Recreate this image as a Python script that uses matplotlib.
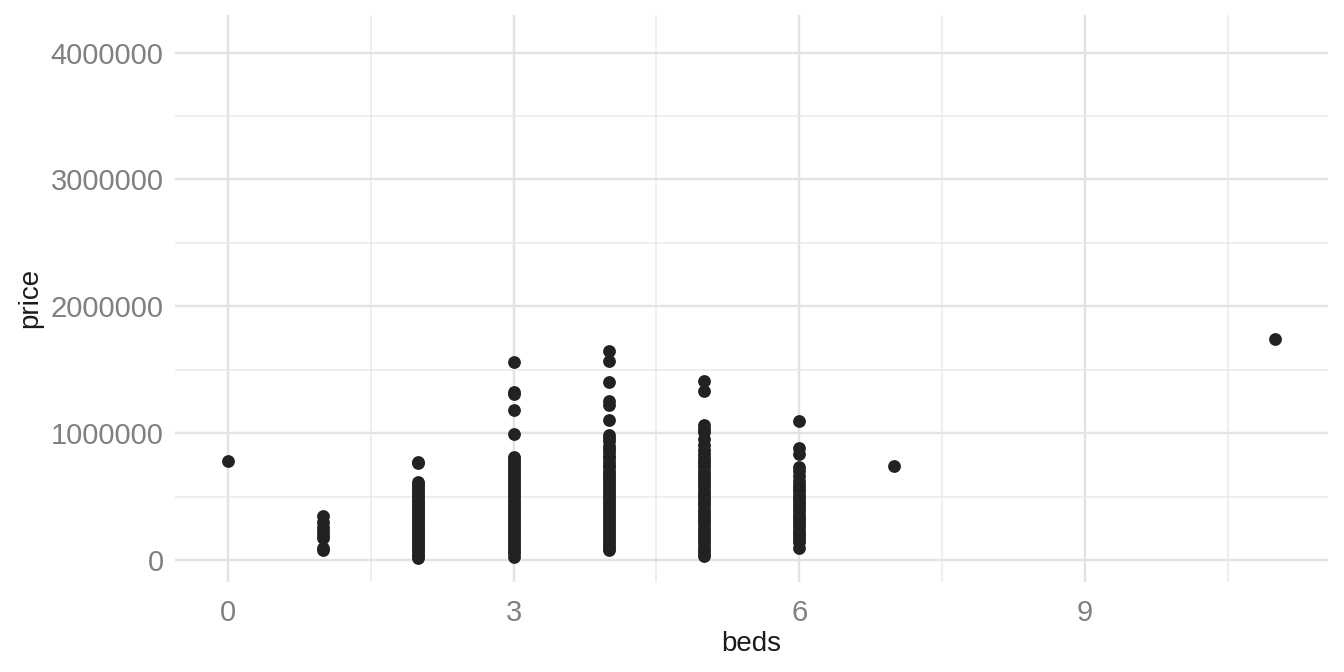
import numpy as np
import matplotlib
matplotlib.use('Agg')
from matplotlib import pyplot as plt
from matplotlib.ticker import FixedLocator

plt.rcParams['font.family'] = ['Liberation Sans', 'DejaVu Sans']

# prices per number of beds
price_0 = [778000]
price_1 = [347000, 302000, 262000, 230000, 200000, 171000, 95000, 79000]
price_2 = [775000, 762000, 618000, 600000, 581000, 560000, 540000, 521000,
           502000, 485000, 466000, 447000, 430000, 411000, 392000, 375000,
           356000, 338000, 320000, 301000, 284000, 265000, 247000, 229000,
           211000, 193000, 175000, 158000, 140000, 122000, 104000, 86000,
           68000, 50000, 33000, 16000]
price_3 = [1564000, 1325000, 1305000, 1185000, 995000, 815000, 795000,
           772000, 750000, 726000, 704000, 681000, 659000, 636000, 614000,
           591000, 569000, 546000, 524000, 501000, 479000, 456000, 434000,
           411000, 389000, 366000, 344000, 321000, 299000, 276000, 254000,
           231000, 209000, 186000, 164000, 141000, 119000, 96000, 74000,
           51000, 26000]
price_4 = [1651000, 1572000, 1401000, 1250000, 1222000, 1104000, 986000,
           960000, 935000, 900000, 872000, 848000, 822000, 800000, 776000,
           752000, 729000, 705000, 682000, 658000, 635000, 611000, 588000,
           564000, 541000, 517000, 494000, 470000, 447000, 423000, 400000,
           376000, 353000, 329000, 306000, 282000, 259000, 235000, 212000,
           188000, 165000, 141000, 118000, 97000, 79000]
price_5 = [1414000, 1335000, 1060000, 1035000, 1010000, 952000, 905000,
           870000, 838000, 805000, 780000, 755000, 730000, 705000, 680000,
           655000, 630000, 605000, 580000, 555000, 530000, 505000, 480000,
           455000, 430000, 405000, 380000, 355000, 330000, 305000, 280000,
           255000, 230000, 205000, 180000, 155000, 130000, 105000, 80000,
           55000, 32000]
price_6 = [1099000, 881000, 835000, 736000, 700000, 660000, 625000, 592000,
           565000, 540000, 515000, 490000, 465000, 440000, 415000, 390000,
           365000, 340000, 315000, 290000, 265000, 240000, 215000, 190000,
           168000, 140000, 95000]
price_7 = [741000]
price_11 = [1743000]

groups = {0: price_0, 1: price_1, 2: price_2, 3: price_3, 4: price_4,
          5: price_5, 6: price_6, 7: price_7, 11: price_11}

x_ticks = [0, 3, 6, 9]
y_ticks = [0, 1000000, 2000000, 3000000, 4000000]
y_labels = ['0', '1000000', '2000000', '3000000', '4000000']

beds = []
price = []
for b, vals in groups.items():
    beds += [b] * len(vals)
    price += vals

fig = plt.figure(figsize=(13.44, 6.72), dpi=100)
ax = fig.add_axes([0.130, 0.134, 0.858, 0.844])

ax.scatter(beds, price, s=85, c='#222222', linewidths=0, zorder=3)

ax.set_xlim(-0.557, 11.55)
ax.set_ylim(-173500, 4298000)

ax.xaxis.set_major_locator(FixedLocator(x_ticks))
ax.xaxis.set_minor_locator(FixedLocator([1.5, 4.5, 7.5, 10.5]))
ax.yaxis.set_major_locator(FixedLocator(y_ticks))
ax.yaxis.set_minor_locator(FixedLocator([500000, 1500000, 2500000, 3500000]))
ax.set_yticklabels(y_labels)

ax.grid(which='major', color='#e3e3e3', linewidth=1.7, zorder=0)
ax.grid(which='minor', color='#e9e9e9', linewidth=1.1, zorder=0)
ax.set_axisbelow(True)
for sp in ax.spines.values():
    sp.set_visible(False)
ax.tick_params(which='both', length=0)
ax.tick_params(axis='both', labelsize=21, labelcolor='#808080')
ax.tick_params(axis='x', pad=12)
ax.tick_params(axis='y', pad=8)

ax.set_xlabel('beds', fontsize=20, color='#1a1a1a', labelpad=3)
ax.set_ylabel('price', fontsize=20, color='#1a1a1a', labelpad=5)

fig.savefig('out.png', dpi=100, facecolor='white')
